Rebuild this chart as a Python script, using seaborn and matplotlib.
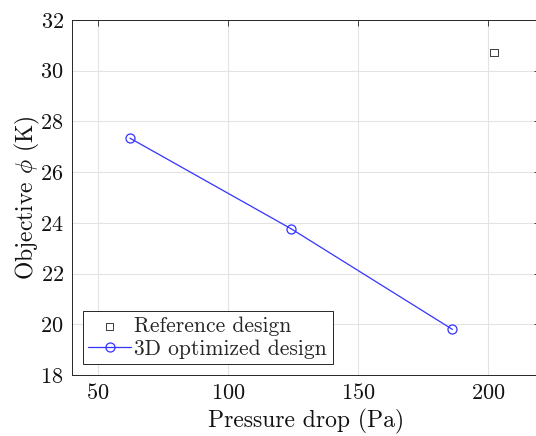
import matplotlib
matplotlib.use("Agg")
import matplotlib.pyplot as plt
import seaborn as sns

# Pressure drop (Pa) and objective phi (K)
ref_dp = [202.3]
ref_phi = [30.71]
opt_dp = [62.3, 124.4, 186.3]
opt_phi = [27.34, 23.76, 19.80]

x_ticks = [50, 100, 150, 200]
y_ticks = [18, 20, 22, 24, 26, 28, 30, 32]

sns.set_theme(style="whitegrid")
plt.rcParams.update({
    "font.family": "cmr10",
    "mathtext.fontset": "cm",
    "axes.formatter.use_mathtext": True,
    "axes.unicode_minus": False,
})

axis_col = "#262626"
line_col = "#3333ff"
fs = 16

fig = plt.figure(figsize=(5.36, 4.36), dpi=100)
ax = fig.add_axes([72 / 536, 61 / 436, 468 / 536, 355 / 436])

sns.scatterplot(x=ref_dp, y=ref_phi, marker="s", s=26, facecolor="none",
                edgecolor="#3a3a3a", linewidth=0.7, label="Reference design",
                ax=ax, zorder=3)
sns.lineplot(x=opt_dp, y=opt_phi, color=line_col, linewidth=0.9,
             marker="o", markersize=6.5, markerfacecolor="none",
             markeredgecolor=line_col, markeredgewidth=0.9,
             label="3D optimized design", ax=ax, zorder=3)

ax.set_xlim(40, 220)
ax.set_ylim(18, 32)
ax.set_xticks(x_ticks)
ax.set_yticks(y_ticks)
ax.grid(True, color="#e3e3e3", linewidth=0.8)
ax.set_axisbelow(True)

for side, sp in ax.spines.items():
    sp.set_visible(True)
    sp.set_color(axis_col)
    sp.set_linewidth(0.7)

ax.tick_params(which="both", direction="in", top=True, right=True,
               length=4, width=0.6, color=axis_col, labelcolor="#111111",
               labelsize=fs, pad=6)

ax.set_xlabel("Pressure drop (Pa)", fontsize=fs + 1, color="#111111", labelpad=4)
ax.set_ylabel(r"Objective $\phi$ (K)", fontsize=fs + 1, color="#111111", labelpad=-1)

leg = ax.legend(loc="lower left", bbox_to_anchor=(0.023, 0.03), fontsize=15.5,
                frameon=True, fancybox=False, framealpha=1, edgecolor=axis_col,
                handlelength=2.0, handletextpad=0.15, borderpad=0.25,
                borderaxespad=0, labelspacing=0.15)
leg.get_frame().set_linewidth(0.7)

fig.savefig("out.png", dpi=100)
